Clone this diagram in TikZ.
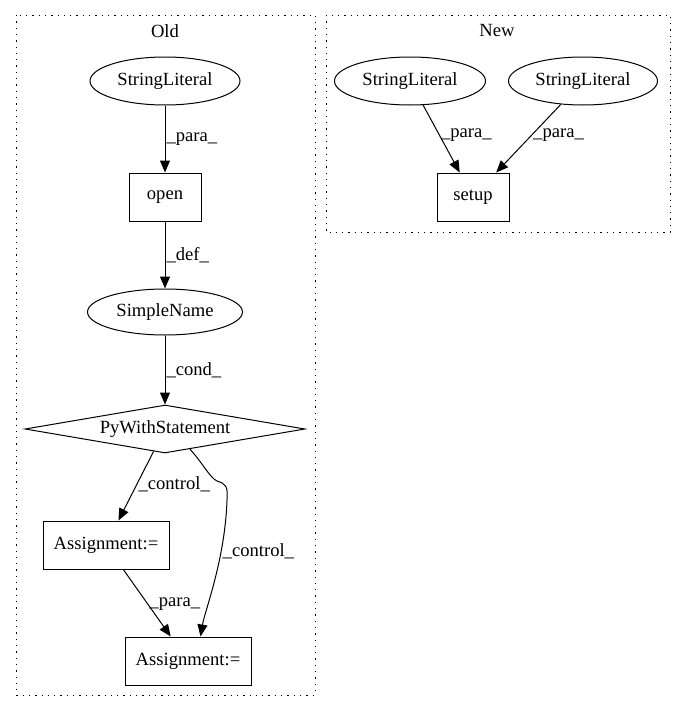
\documentclass[tikz,border=0pt]{standalone}
\usepackage{fontspec}
\setmainfont{Liberation Serif}
\usetikzlibrary{arrows.meta,shapes.geometric,positioning}

\begin{document}
\begin{tikzpicture}[x=1pt,y=-1pt,line width=1pt,
		font=\fontsize{18.6}{21}\selectfont,
		oval/.style={draw,ellipse,minimum width=150,minimum height=48,inner sep=0pt},
		box/.style={draw,rectangle,minimum height=48,inner sep=0pt},
		cond/.style={draw,diamond,aspect=5.83,minimum width=280,minimum height=48,inner sep=0pt},
		edge/.style={-{Triangle[length=12pt,width=10pt]}},
		lab/.style={inner sep=1pt},
		cluster/.style={dash pattern=on 1.3pt off 5pt,line width=1pt}]
		\useasboundingbox (0,0) rectangle (685,712);
		% clusters
		\draw[cluster] (16,15) rectangle (315,695);
		\node (old) at (165,31) {Old};
		\draw[cluster] (326,15) rectangle (670,232);
		\node (new) at (497,31) {New};
		% old graph
		\node[oval] (sl) at (165,81) {StringLiteral};
		\node[box,minimum width=72] (open) at (165,197) {open};
		\node[oval,minimum width=155,minimum height=46] (sn) at (165,312) {SimpleName};
		\node[cond] (pws) at (165,429) {PyWithStatement};
		\node[box,minimum width=126] (asg1) at (106,545) {Assignment:=};
		\node[box,minimum width=126] (asg2) at (188,661) {Assignment:=};
		\draw[edge] (sl) -- node[lab,right] {\_para\_} (open);
		\draw[edge] (open) -- node[lab,right] {\_def\_} (sn);
		\draw[edge] (sn) -- node[lab,right] {\_cond\_} (pws);
		\draw[edge] (pws) -- node[lab,right,pos=0.47] {\_control\_} (asg1);
		\draw[edge] (asg1) -- node[lab,right,pos=0.52] {\_para\_} (asg2);
		\draw[edge] (pws.-39) .. controls (202,462) and (210,478) .. (217,481)
			.. controls (226,484) and (228,486) .. (227,500)
			.. controls (225,560) and (205,610) .. node[lab,right,pos=0.3] {\_control\_} (asg2.63);
		% new graph
		\node[oval,minimum width=151] (sl1) at (410,81) {StringLiteral};
		\node[oval,minimum width=149] (sl2) at (583,81) {StringLiteral};
		\node[box,minimum width=72] (setup) at (473,197) {setup};
		\draw[edge] (sl1) -- node[lab,right,pos=0.45] {\_para\_} (setup);
		\draw[edge] (sl2) -- node[lab,right,pos=0.45] {\_para\_} (setup);
\end{tikzpicture}
\end{document}
